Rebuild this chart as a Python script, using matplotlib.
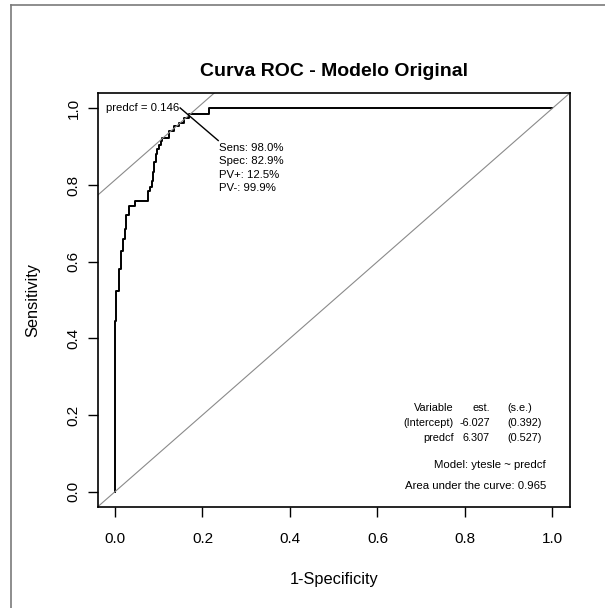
import matplotlib
matplotlib.use("Agg")
import matplotlib.pyplot as plt
from matplotlib.lines import Line2D

plt.rcParams['font.family'] = ['Liberation Sans', 'DejaVu Sans']

# ROC curve: x of each vertical step and the sensitivity reached there
step_fpr = [0.000, 0.003, 0.0085, 0.013, 0.018, 0.022, 0.026, 0.031, 0.045,
            0.076, 0.081, 0.084, 0.087, 0.090, 0.093, 0.097, 0.101, 0.105,
            0.108, 0.123, 0.135, 0.146, 0.158, 0.169, 0.215]
step_sens = [0.445, 0.523, 0.581, 0.627, 0.660, 0.684, 0.721, 0.745, 0.758,
             0.784, 0.795, 0.810, 0.835, 0.860, 0.880, 0.895, 0.905, 0.915,
             0.923, 0.941, 0.954, 0.963, 0.976, 0.984, 1.000]

# optimal cut-off
cut_fpr = 0.172
cut_sens = 0.985
cut_label = "predcf = 0.146"
cut_stats = ["Sens: 98.0%", "Spec: 82.9%", "PV+: 12.5%", "PV-: 99.9%"]

# model table
tab_rows = [["Variable", "est.", "(s.e.)"],
            ["(Intercept)", "-6.027", "(0.392)"],
            ["predcf", "6.307", "(0.527)"]]
model_txt = "Model: ytesle ~ predcf"
auc_txt = "Area under the curve: 0.965"

ticks = [0.0, 0.2, 0.4, 0.6, 0.8, 1.0]

SMALL = 8.2
TAB = 7.8

fig = plt.figure(figsize=(6.05, 6.08), dpi=100)
ax = fig.add_axes([97.5 / 605, 101 / 608, 472.4 / 605, 414 / 608])

# curve
xs = step_fpr + [1.0]
ys = [0.0] + step_sens
ax.step(xs, ys, where='pre', color='black', lw=1.4)

# diagonal and tangent line through the optimum
ax.axline((0, 0), slope=1, color='#8a8a8a', lw=0.8)
ax.axline((cut_fpr, cut_sens), slope=1, color='#8a8a8a', lw=0.8)

# cut-off annotation
ax.plot([0.149, 0.236], [1.001, 0.916], color='black', lw=1.0)
ax.text(0.147, 1.0, cut_label, ha='right', va='center', fontsize=SMALL)
for i, s in enumerate(cut_stats):
    ax.text(0.238, 0.897 - i * 0.035, s, ha='left', va='center', fontsize=SMALL)

# table bottom right
row_y = [0.217, 0.178, 0.141]
for y, row in zip(row_y, tab_rows):
    ax.text(0.774, y, row[0], ha='right', va='center', fontsize=TAB)
    ax.text(0.857, y, row[1], ha='right', va='center', fontsize=TAB)
    ax.text(0.897, y, row[2], ha='left', va='center', fontsize=TAB)
ax.text(0.985, 0.070, model_txt, ha='right', va='center', fontsize=SMALL)
ax.text(0.985, 0.016, auc_txt, ha='right', va='center', fontsize=SMALL)

ax.set_xlim(-0.04, 1.04)
ax.set_ylim(-0.04, 1.04)
ax.set_xticks(ticks)
ax.set_yticks(ticks)
ax.set_xticklabels([f"{t:.1f}" for t in ticks])
ax.set_yticklabels([f"{t:.1f}" for t in ticks], rotation=90, va='center')
ax.tick_params(direction='out', length=7, width=1, labelsize=11)
ax.tick_params(axis='x', pad=11)
ax.tick_params(axis='y', pad=5)
for sp in ax.spines.values():
    sp.set_linewidth(1.2)

ax.set_xlabel("1-Specificity", fontsize=11.8, va='center')
ax.xaxis.set_label_coords(0.5, -0.174)
ax.set_ylabel("Sensitivity", fontsize=11.8, va='center')
ax.yaxis.set_label_coords(-0.136, 0.5)
ax.text(0.5, 1.053, "Curva ROC - Modelo Original", transform=ax.transAxes,
        ha='center', va='center', fontsize=14, fontweight='bold')

# outer frame (left and top edges only are in view)
fig.add_artist(Line2D([11 / 605, 11 / 605], [0, 1 - 5 / 608],
                      transform=fig.transFigure, color='#7a7a7a', lw=1.2))
fig.add_artist(Line2D([11 / 605, 1], [1 - 5 / 608, 1 - 5 / 608],
                      transform=fig.transFigure, color='#7a7a7a', lw=1.2))

fig.savefig("out.png", dpi=100)
